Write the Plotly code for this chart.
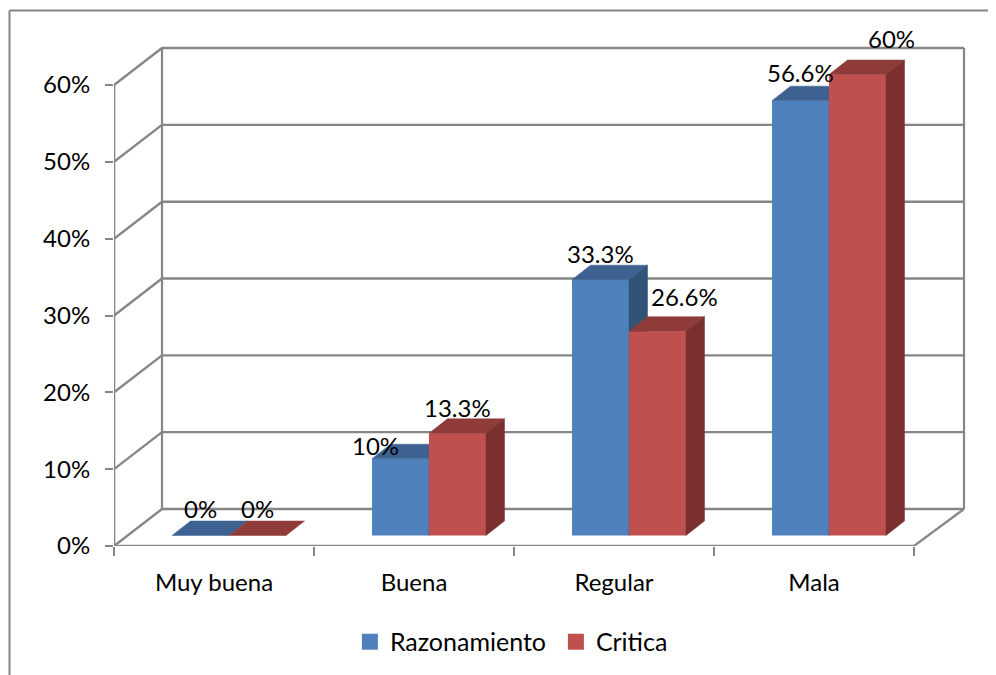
import plotly.graph_objects as go

categories = ["Muy buena", "Buena", "Regular", "Mala"]
razonamiento = [0, 10, 33.3, 56.6]
critica = [0, 13.3, 26.6, 60]
razon_labels = ["0%", "10%", "33.3%", "56.6%"]
critica_labels = ["0%", "13.3%", "26.6%", "60%"]
y_ticks = [0, 10, 20, 30, 40, 50, 60]

PX_X = 200.0
PX_Y = 7.683
WALL_DX, WALL_DY = 48 / PX_X, 37 / PX_Y
BAR_OX, BAR_OY = 15 / PX_X, 10.5 / PX_Y
BAR_W = 57 / PX_X
BAR_DX, BAR_DY = 18.5 / PX_X, 14.5 / PX_Y
GRID = "#868686"
FONT = "Lato"

fig = go.Figure()

def line(xs, ys, width=2.2):
    fig.add_trace(go.Scatter(x=xs, y=ys, mode="lines", showlegend=False, hoverinfo="skip", cliponaxis=False,
                             line=dict(color=GRID, width=width), zorder=0))

n = len(categories)
for t in y_ticks:
    line([0, WALL_DX, n + WALL_DX + 0.01], [t, t + WALL_DY, t + WALL_DY], 2.4)
line([WALL_DX, WALL_DX], [WALL_DY, y_ticks[-1] + WALL_DY])
line([n + WALL_DX + 0.01, n + WALL_DX + 0.01], [WALL_DY, y_ticks[-1] + WALL_DY])
line([n, n + WALL_DX + 0.01], [0, WALL_DY])
line([0, n], [0, 0], 2.6)
line([0, 0], [0, y_ticks[-1]], 2.6)

def poly(xs, ys, color, z):
    fig.add_trace(go.Scatter(x=xs, y=ys, mode="lines", fill="toself", fillcolor=color, showlegend=False,
                             hoverinfo="skip", line=dict(color=color, width=0.5), zorder=z))

def series(name, values, shift, front, top, side, z):
    xs = [i + 0.5 + BAR_OX + shift * BAR_W for i in range(n)]
    fig.add_trace(go.Bar(x=xs, y=values, base=[BAR_OY] * n, width=BAR_W, name=name, showlegend=False,
                         marker=dict(color=front, line=dict(width=0)), zorder=z))
    for cx, v in zip(xs, values):
        x0, x1 = cx - BAR_W / 2, cx + BAR_W / 2
        b, h = BAR_OY, BAR_OY + v
        poly([x0, x1, x1 + BAR_DX, x0 + BAR_DX, x0], [h, h, h + BAR_DY, h + BAR_DY, h], top, z)
        if v > 0:
            poly([x1, x1 + BAR_DX, x1 + BAR_DX, x1, x1], [h, h + BAR_DY, b + BAR_DY, b, h], side, z)
    # legend key: a square matching the front face colour
    fig.add_trace(go.Scatter(x=[None], y=[None], mode="markers", name=name,
                             marker=dict(symbol="square", size=17, color=front)))
    return xs

bx = series("Razonamiento", razonamiento, -0.5, "#4F81BD", "#3D6291", "#325378", 1)
rx = series("Critica", critica, 0.5, "#C0504D", "#8F3B39", "#7B2F2E", 2)

label_shift_blue = [(0, 27), (-25, 13), (0, 26), (0, 28)]
label_shift_red = [(0, 27), (0, 26), (27, 35), (34, 36)]
annotations = []
for xs, vals, labels, shifts in [(bx, razonamiento, razon_labels, label_shift_blue),
                                 (rx, critica, critica_labels, label_shift_red)]:
    for x, v, txt, (sx, sy) in zip(xs, vals, labels, shifts):
        annotations.append(dict(x=x, y=v + BAR_OY, text=txt, showarrow=False, xanchor="center",
                                yanchor="middle", xshift=sx, yshift=sy,
                                font=dict(family=FONT, size=24, color="#000000")))

border = [dict(type="line", xref="paper", yref="paper", x0=(9.5 - 114) / 860, x1=(9.5 - 114) / 860,
               y0=-130 / 525, y1=1 - (10.5 - 21) / 525, line=dict(color=GRID, width=2)),
          dict(type="line", xref="paper", yref="paper", x0=(9.5 - 114) / 860, x1=(996 - 114) / 860,
               y0=1 - (10.5 - 21) / 525, y1=1 - (10.5 - 21) / 525, line=dict(color=GRID, width=2))]

fig.update_layout(
    width=996, height=675, margin=dict(l=106, r=30, t=13, b=137, autoexpand=False),
    paper_bgcolor="white", plot_bgcolor="white", barmode="overlay",
    font=dict(family=FONT, size=24, color="#000000"),
    annotations=annotations, shapes=border,
    legend=dict(orientation="h", x=0.2743, y=-0.139, xanchor="left", yanchor="top",
                font=dict(family=FONT, size=25), entrywidth=161, entrywidthmode="pixels"),
    xaxis=dict(range=[0, 4.3], tickvals=[i + 0.5 for i in range(n)], ticktext=categories, ticks="",
               showgrid=False, zeroline=False, showline=False,
               ticklabelstandoff=20,
               minor=dict(tickvals=list(range(n + 1)), ticks="outside", ticklen=9, tickwidth=1.5,
                          tickcolor=GRID, showgrid=False)),
    yaxis=dict(range=[0, 525 / PX_Y], tickvals=y_ticks, ticktext=[f"{t}%" for t in y_ticks], ticks="outside",
               ticklen=8, tickwidth=2, tickcolor=GRID, showgrid=False, zeroline=False,
               showline=False, ticklabelstandoff=10),
)

fig.write_html("out.html")
